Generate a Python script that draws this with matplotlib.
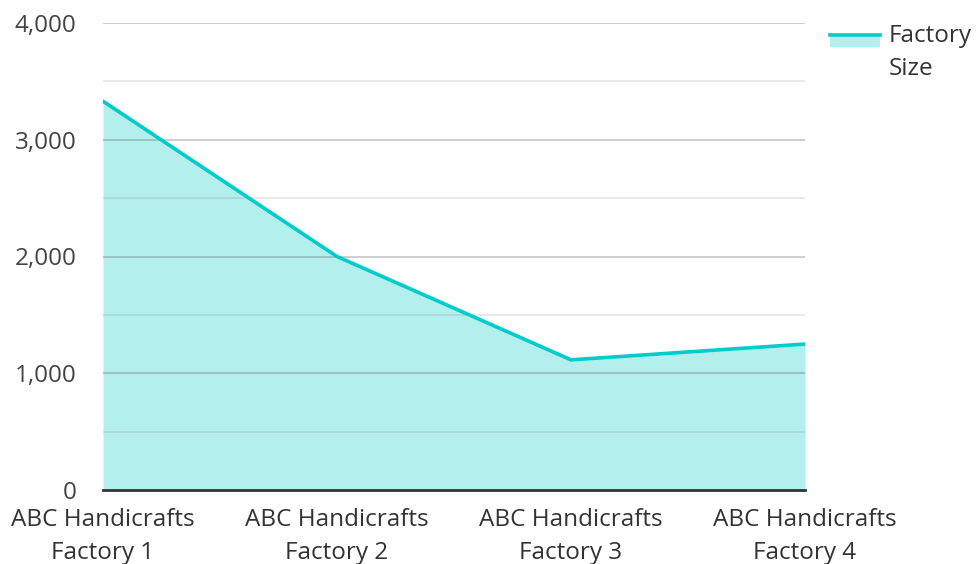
import numpy as np
import matplotlib.pyplot as plt
from matplotlib.patches import Rectangle
from matplotlib.lines import Line2D

plt.rcParams['font.family'] = ['Open Sans', 'DejaVu Sans']

# data
factories = ['ABC Handicrafts\nFactory 1', 'ABC Handicrafts\nFactory 2',
             'ABC Handicrafts\nFactory 3', 'ABC Handicrafts\nFactory 4']
factory_size = [3330, 2000, 1115, 1250]
y_ticks = [0, 1000, 2000, 3000, 4000]
y_tick_labels = ['0', '1,000', '2,000', '3,000', '4,000']
series_name = 'Factory\nSize'

line_color = '#00cccc'
fill_color = '#b2efed'

W, H = 979, 564
fig = plt.figure(figsize=(W/100, H/100), dpi=100)
ax = fig.add_axes([103/W, 1 - 490/H, (805-103)/W, (490-23)/H])

x = np.arange(len(factories))
ax.fill_between(x, factory_size, 0, color=fill_color, lw=0, zorder=1)
ax.plot(x, factory_size, color=line_color, lw=2.6, zorder=4)

# gridlines (drawn over the fill)
for v in np.arange(500, 4001, 1000):
    ax.axhline(v, color='#7a7a7a', alpha=0.18, lw=1.3, zorder=2)
for v in [1000, 2000, 3000, 4000]:
    ax.axhline(v, color='#5a5a5a', alpha=0.32, lw=1.3, zorder=2)

ax.set_xlim(0, 3)
ax.set_ylim(0, 4000)
ax.set_yticks(y_ticks)
ax.set_yticklabels(y_tick_labels)
ax.set_xticks(x)
ax.set_xticklabels(factories, linespacing=1.5)

for s in ['top', 'right', 'left']:
    ax.spines[s].set_visible(False)
ax.spines['bottom'].set_color('#333333')
ax.spines['bottom'].set_linewidth(2)
ax.spines['bottom'].set_zorder(5)
ax.tick_params(axis='both', length=0, labelsize=17.5, colors='#444444')
ax.tick_params(axis='y', pad=19)
ax.tick_params(axis='x', pad=13)
for lab in ax.get_xticklabels():
    lab.set_color('#333333')

# legend drawn by hand (line over a fill swatch)
fig.add_artist(Rectangle((830/W, 1 - 47/H), 50/W, 13/H, transform=fig.transFigure,
                         facecolor=fill_color, edgecolor='none'))
fig.add_artist(Line2D([830/W, 880/W], [1 - 35/H, 1 - 35/H], transform=fig.transFigure,
                      color=line_color, lw=2.6))
fig.text(889/W, 1 - 24/H, series_name, fontsize=17.5, color='#333333',
         ha='left', va='top', linespacing=1.5)

fig.savefig('out.png', dpi=100)
